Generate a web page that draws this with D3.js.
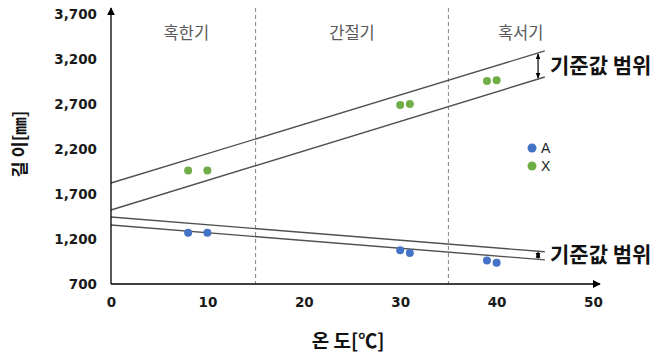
<!DOCTYPE html>
<html><head><meta charset="utf-8">
<script src="https://cdn.jsdelivr.net/npm/d3@7"></script>
<style>
body{margin:0;background:#fff;}
svg{display:block;font-family:"Noto Sans CJK KR","Noto Sans",sans-serif;}
</style></head>
<body><svg id="c" width="662" height="356"></svg>
<script>
// data
const temps = [8, 10, 30, 31, 39, 40];
const seriesA = [1270, 1270, 1075, 1045, 960, 935];
const seriesX = [1960, 1960, 2690, 2700, 2955, 2965];
const seriesNames = ["A", "X"];
const seriesColors = ["#4472C4", "#70AD47"];
const yTicks = [700, 1200, 1700, 2200, 2700, 3200, 3700];
const xTicks = [0, 10, 20, 30, 40, 50];
const periods = ["혹한기", "간절기", "혹서기"];
const periodBounds = [0, 15, 35, 50];
const bandX = [0, 45];
const bandUpperHi = [1822, 3290];
const bandUpperLo = [1522, 3000];
const bandLowerHi = [1444, 1058];
const bandLowerLo = [1356, 968];
const bandLabel = "기준값 범위";

const svg = d3.select("#c");
const x = d3.scaleLinear().domain([0, 50]).range([111, 593]);
const y = d3.scaleLinear().domain([700, 3700]).range([284, 14]);

const defs = svg.append("defs");
defs.append("marker").attr("id","ah").attr("viewBox","0 0 10 10").attr("refX",9).attr("refY",5)
  .attr("markerWidth",8).attr("markerHeight",8).attr("orient","auto-start-reverse").attr("markerUnits","userSpaceOnUse")
  .append("path").attr("d","M0,0 L10,5 L0,10 z").attr("fill","#000");
defs.append("marker").attr("id","sa").attr("viewBox","0 0 10 10").attr("refX",9).attr("refY",5)
  .attr("markerWidth",6).attr("markerHeight",6).attr("orient","auto-start-reverse").attr("markerUnits","userSpaceOnUse")
  .append("path").attr("d","M0,1 L10,5 L0,9 z").attr("fill","#000");

// dashed period dividers
svg.selectAll(".div").data(periodBounds.slice(1, -1)).enter().append("line")
  .attr("x1", d => x(d)).attr("x2", d => x(d)).attr("y1", 8).attr("y2", y(700))
  .attr("stroke", "#808080").attr("stroke-width", 1).attr("stroke-dasharray", "4,3");

// period labels
svg.selectAll(".pl").data(periods).enter().append("text")
  .attr("x", (d, i) => x((periodBounds[i] + periodBounds[i+1]) / 2) + (i===0?3:0))
  .attr("y", 39).attr("text-anchor", "middle").attr("font-size", 16.5).attr("fill", "#595959").text(d => d);

// band lines
const line = d3.line().x(d => x(d[0])).y(d => y(d[1]));
[bandUpperHi, bandUpperLo, bandLowerHi, bandLowerLo].forEach(b => {
  svg.append("path").attr("d", line(bandX.map((t, i) => [t, b[i]])))
    .attr("fill", "none").attr("stroke", "#505050").attr("stroke-width", 1.4);
});

// axes
const tickFont = "'DejaVu Sans',Verdana,sans-serif";
const xAxis = d3.axisBottom(x).tickValues(xTicks).tickSize(0).tickPadding(13).tickFormat(d3.format("d"));
const gx = svg.append("g").attr("transform", `translate(0,${y(700)})`).call(xAxis);
gx.select(".domain").remove();
gx.selectAll("text").attr("font-size", 13.5).attr("font-weight", "bold").attr("fill", "#1a1a1a")
  .attr("font-family", tickFont);
const yAxis = d3.axisLeft(y).tickValues(yTicks).tickSize(0).tickPadding(14).tickFormat(d3.format(","));
const gy = svg.append("g").attr("transform", `translate(${x(0)},0)`).call(yAxis);
gy.select(".domain").remove();
gy.selectAll("text").attr("font-size", 13.5).attr("font-weight", "bold").attr("fill", "#1a1a1a")
  .attr("font-family", tickFont);

svg.append("line").attr("x1", x(0)).attr("x2", 600).attr("y1", y(700)).attr("y2", y(700))
  .attr("stroke", "#000").attr("stroke-width", 1.3).attr("marker-end", "url(#ah)");
svg.append("line").attr("x1", x(0)).attr("x2", x(0)).attr("y1", y(700)).attr("y2", 8)
  .attr("stroke", "#000").attr("stroke-width", 1.3).attr("marker-end", "url(#ah)");

// points
[seriesA, seriesX].forEach((s, si) => {
  svg.selectAll(".p" + si).data(s).enter().append("circle")
    .attr("cx", (d, i) => x(temps[i])).attr("cy", d => y(d)).attr("r", 4).attr("fill", seriesColors[si]);
});

// legend
seriesNames.forEach((n, i) => {
  svg.append("circle").attr("cx", 532).attr("cy", 148 + i * 18).attr("r", 4.5).attr("fill", seriesColors[i]);
  svg.append("text").attr("x", 541).attr("y", 153 + i * 18).attr("font-size", 14).attr("fill", "#222")
    .attr("font-family", "'Liberation Sans',Arial,sans-serif").text(n);
});

// range arrows + labels
const ax = x(44.3);
[[bandUpperHi, bandUpperLo], [bandLowerHi, bandLowerLo]].forEach(([hi, lo]) => {
  const t = x.invert(ax);
  const vh = hi[0] + (hi[1] - hi[0]) * t / bandX[1];
  const vl = lo[0] + (lo[1] - lo[0]) * t / bandX[1];
  svg.append("line").attr("x1", ax).attr("x2", ax).attr("y1", y(vh) + 1).attr("y2", y(vl) - 1)
    .attr("stroke", "#000").attr("stroke-width", 1.2)
    .attr("marker-start", "url(#sa)").attr("marker-end", "url(#sa)");
  svg.append("text").attr("x", 550).attr("y", (y(vh) + y(vl)) / 2 + 7)
    .attr("font-size", 21).attr("font-weight", "bold").attr("fill", "#111").text(bandLabel);
});

// axis titles
svg.append("text").attr("x", 348).attr("y", 348).attr("text-anchor", "middle")
  .attr("font-size", 19).attr("font-weight", "bold").attr("fill", "#111").text("온 도[℃]");
svg.append("text").attr("transform", "translate(26,144) rotate(-90)").attr("text-anchor", "middle")
  .attr("font-size", 17.5).attr("font-weight", "bold").attr("fill", "#111").text("길 이[㎜]");
</script></body></html>
